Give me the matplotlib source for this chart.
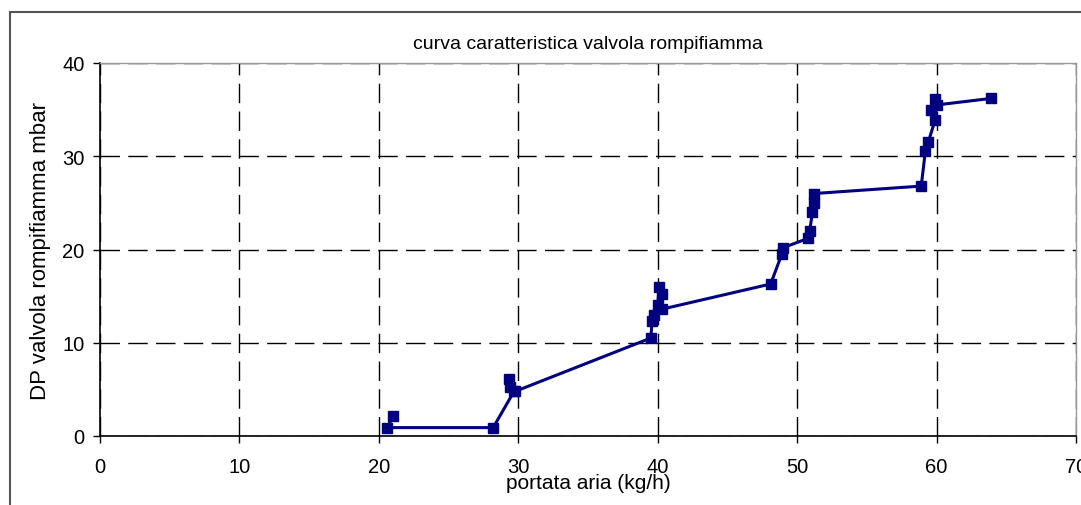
import matplotlib.pyplot as plt
from matplotlib.patches import Rectangle

plt.rcParams['font.family'] = ['Liberation Sans', 'DejaVu Sans']

# portata aria (kg/h) and DP valvola rompifiamma (mbar), in measurement order
portata = [21.0, 20.6, 28.2, 29.7, 29.3, 29.4, 29.8,
           39.5, 39.6, 39.7, 40.0, 40.1, 40.3, 40.3,
           48.1, 48.9, 49.0, 50.8, 50.9, 51.1, 51.2, 51.2,
           58.9, 59.2, 59.4, 59.9, 59.6, 59.9, 60.0, 63.9]
dp = [2.1, 0.9, 0.9, 4.8, 6.1, 5.3, 4.8,
      10.5, 12.3, 13.0, 14.0, 16.0, 15.2, 13.6,
      16.3, 19.5, 20.2, 21.2, 22.0, 24.0, 25.0, 26.0,
      26.8, 30.6, 31.5, 33.9, 35.0, 36.1, 35.5, 36.2]

x_ticks = [0, 10, 20, 30, 40, 50, 60, 70]
y_ticks = [0, 10, 20, 30, 40]

fig = plt.figure(figsize=(10.81, 5.06), dpi=100)
ax = fig.add_axes([100 / 1081, 69 / 506, 976 / 1081, 373 / 506])

# outer chart frame
fig.patches.append(Rectangle((10 / 1081, -0.1), 1.2, (506 - 13) / 506 + 0.1,
                             transform=fig.transFigure, fill=False,
                             edgecolor='#555555', linewidth=1.5))

ax.plot(portata, dp, color='#000080', linewidth=2.2, marker='s',
        markersize=7, markerfacecolor='#000080', markeredgecolor='#000080')

ax.set_xlim(0, 70)
ax.set_ylim(0, 40)
ax.set_xticks(x_ticks)
ax.set_yticks(y_ticks)
ax.grid(True, color='black', linestyle=(0, (14, 6)), linewidth=1.0)
ax.set_axisbelow(True)

for spine in ['top', 'right']:
    ax.spines[spine].set_color('#999999')
    ax.spines[spine].set_linewidth(1.0)
for spine in ['left', 'bottom']:
    ax.spines[spine].set_color('black')
    ax.spines[spine].set_linewidth(1.2)

ax.tick_params(axis='both', direction='out', length=5, width=1,
               labelsize=14.5, colors='black')
ax.tick_params(axis='x', pad=10)
ax.tick_params(axis='y', pad=6)

ax.set_title('curva caratteristica valvola rompifiamma', fontsize=14, pad=11)
ax.set_xlabel('portata aria (kg/h)', fontsize=15, labelpad=-2)
ax.set_ylabel('DP valvola rompifiamma mbar', fontsize=16, labelpad=8)

fig.savefig('out.png', dpi=100)
